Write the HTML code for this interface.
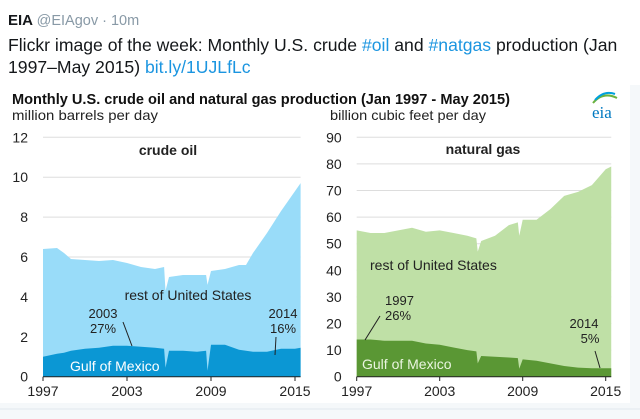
<!DOCTYPE html>
<html><head><meta charset="utf-8"><style>
body{margin:0;width:640px;height:419px;overflow:hidden;background:#fff;font-family:"Liberation Sans",sans-serif}
svg{display:block}
</style></head><body>
<svg id="s" width="640" height="419">
<rect x="0" y="0" width="640" height="419" fill="#fff"/>
<rect x="0" y="403" width="640" height="16" fill="#f5f8fa"/>
<rect x="630" y="85" width="10" height="318" fill="#f5f8fa"/>
<line x1="0" y1="409" x2="640" y2="409" stroke="#e1e8ed"/>
<text x="8" y="25" font-size="15" font-weight="bold" fill="#14171a">EIA <tspan font-weight="normal" fill="#8899a6" font-size="14.5">@EIAgov · 10m</tspan></text>
<text x="8" y="51" font-size="17.6" fill="#14171a">Flickr image of the week: Monthly U.S. crude <tspan fill="#1b95e0">#oil</tspan> and <tspan fill="#1b95e0">#natgas</tspan> production (Jan</text>
<text x="8" y="73" font-size="17.6" fill="#14171a">1997–May 2015) <tspan fill="#1b95e0">bit.ly/1UJLfLc</tspan></text>
<text x="12" y="104" font-size="14.5" font-weight="bold" fill="#111" textLength="498" lengthAdjust="spacingAndGlyphs">Monthly U.S. crude oil and natural gas production (Jan 1997  - May 2015)</text>
<text x="12" y="120" font-size="14" fill="#222" textLength="146" lengthAdjust="spacingAndGlyphs">million barrels per day</text>
<text x="330" y="120" font-size="14" fill="#222" textLength="156" lengthAdjust="spacingAndGlyphs">billion cubic feet per day</text>
<g><path d="M593 103 Q603 91 617 98" stroke="#6cb33f" stroke-width="2" fill="none"/><path d="M595 100 Q604 90 615 94" stroke="#00a0dc" stroke-width="2" fill="none"/><text x="592" y="118" font-size="17" fill="#0079c1" font-family="Liberation Serif,serif">eia</text></g>
<g id="oil"></g><g id="gas"></g>
</svg>
<script>
const oilYears=[1997,1998,1998.5,1999,2000,2001,2002,2003,2004,2005,2005.65,2005.75,2006,2007,2008,2008.65,2008.75,2009,2010,2011,2011.5,2012,2013,2014,2015,2015.4];
const oilTotal=[6.4,6.45,6.2,5.9,5.85,5.8,5.85,5.7,5.5,5.4,5.5,4.3,5.0,5.1,5.1,5.1,4.6,5.3,5.4,5.6,5.6,6.2,7.2,8.3,9.3,9.7];
const oilGulf=[1.0,1.15,1.2,1.3,1.4,1.45,1.55,1.55,1.5,1.45,1.4,0.45,1.3,1.3,1.25,1.3,0.3,1.6,1.6,1.35,1.3,1.25,1.25,1.4,1.4,1.45];
const gasYears=[1997,1998,1999,2000,2001,2002,2003,2004,2005,2005.65,2005.75,2006,2007,2008,2008.65,2008.75,2009,2010,2011,2012,2013,2014,2015,2015.4];
const gasTotal=[55,54,54,55,56,54.5,55,54,53,52,47,51,53,57,58,53,59,59,63,68,69.5,72,78,79];
const gasGulf=[14,14,13.5,13.5,13.5,12.5,12,11,10,9.5,5,7.8,7.5,7.2,7,3,6.5,6,5,4,3.4,3.2,3.2,3.2];
const oilTicks=[0,2,4,6,8,10,12];
const gasTicks=[0,10,20,30,40,50,60,70,80,90];
const xTicks=[1997,2003,2009,2015];
const NS="http://www.w3.org/2000/svg";
function mk(p,t,a){const e=document.createElementNS(NS,t);for(const k in a)e.setAttribute(k,a[k]);p.appendChild(e);return e;}
function area(g,xs,ys,x,y,fill){let d="M"+x(xs[0])+","+y(0);xs.forEach((v,i)=>d+="L"+x(v)+","+y(ys[i]));d+="L"+x(xs[xs.length-1])+","+y(0)+"Z";return mk(g,"path",{d:d,fill:fill});}
function chart(gid,x0,x1,yMax,ticks,years,tot,gulf,light,dark){
 const g=document.getElementById(gid);
 const x=v=>x0+(v-1997)*(x1-x0)/18, y=v=>376.7-v*(376.7-137.3)/yMax;
 ticks.forEach(t=>{
  if(t>0){const l=mk(g,"line",{x1:x0,x2:x(2015.4),y1:y(t),y2:y(t),stroke:"#ddd"});
  
  }
  const tx=mk(g,"text",{x:x0-15,y:y(t)+5,"font-size":14,fill:"#222","text-anchor":"end"});tx.textContent=t;
  
  
 });
 const a1=area(g,years,tot,x,y,light);
 
 
 const a2=area(g,years,gulf,x,y,dark);
 
 
 mk(g,"line",{x1:x0,x2:x(2015.4),y1:376.7,y2:376.7,stroke:"#222"});
 xTicks.forEach(t=>{mk(g,"line",{x1:x(t),x2:x(t),y1:376.7,y2:381,stroke:"#222"});
  const tx=mk(g,"text",{x:x(t),y:396,"font-size":14,fill:"#222","text-anchor":"middle"});tx.textContent=t;
  
  });
 return {x,y,g};
}
const o=chart("oil",43,295,12,oilTicks,oilYears,oilTotal,oilGulf,"#99dcf9","#0b97d4");
const gs=chart("gas",356.7,605.7,90,gasTicks,gasYears,gasTotal,gasGulf,"#bfe0a6","#5a9734");
function lab(g,x,y,s,t,opt){const e=mk(g,"text",Object.assign({x:x,y:y,"font-size":s,fill:"#222"},opt||{}));e.textContent=t;return e;}
let e;
e=lab(o.g,168,155,14,"crude oil",{"font-weight":"bold","text-anchor":"middle"});
e=lab(o.g,188,300,14,"rest of United States",{"text-anchor":"middle"});
e=lab(o.g,70,371,14,"Gulf of Mexico",{fill:"#fff"});
lab(o.g,103,318,13,"2003",{"text-anchor":"middle"});lab(o.g,103,333,13,"27%",{"text-anchor":"middle"});
mk(o.g,"line",{x1:123,y1:322,x2:132,y2:346,stroke:"#222"});
lab(o.g,283,318,13,"2014",{"text-anchor":"middle"});lab(o.g,283,333,13,"16%",{"text-anchor":"middle"});
mk(o.g,"line",{x1:276,y1:337,x2:275,y2:355,stroke:"#222"});
e=lab(gs.g,483,154,14,"natural gas",{"font-weight":"bold","text-anchor":"middle"});
e=lab(gs.g,370,270,14,"rest of United States");
e=lab(gs.g,362,369,14,"Gulf of Mexico",{fill:"#eaf5e0"});
lab(gs.g,385,305,13,"1997");lab(gs.g,385,320,13,"26%");
mk(gs.g,"line",{x1:380,y1:316,x2:365,y2:340,stroke:"#222"});
lab(gs.g,584,328,13,"2014",{"text-anchor":"middle"});lab(gs.g,590,343,13,"5%",{"text-anchor":"middle"});
mk(gs.g,"line",{x1:595,y1:351,x2:600,y2:368,stroke:"#222"});
</script>
</body></html>
